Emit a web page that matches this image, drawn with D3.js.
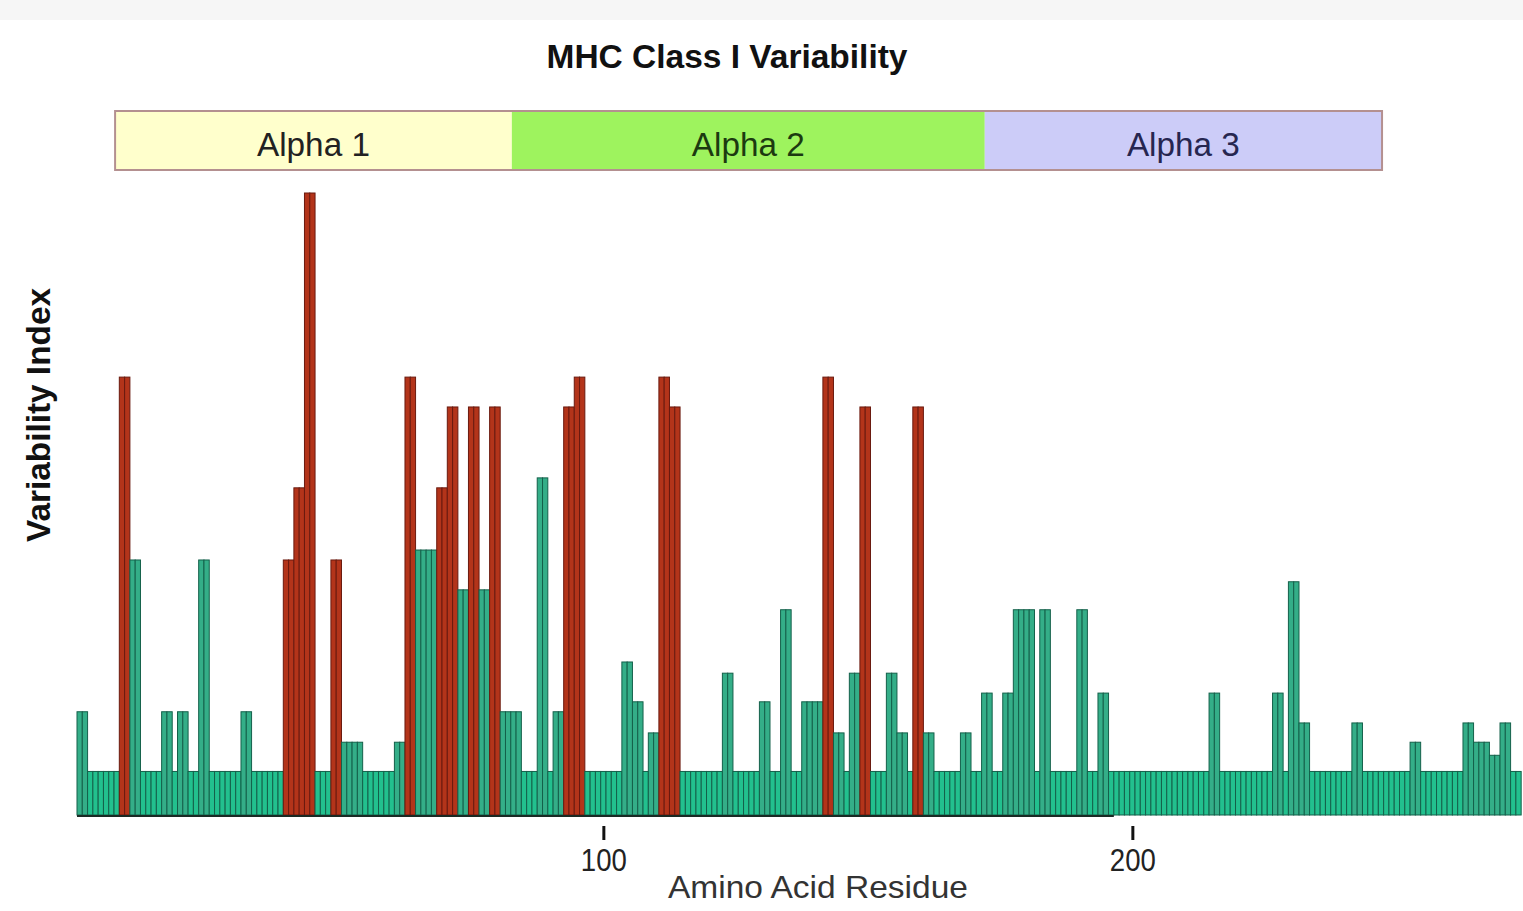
<!DOCTYPE html>
<html>
<head>
<meta charset="utf-8">
<script src="https://cdn.jsdelivr.net/npm/d3@7"></script>
<style>
  body { margin: 0; background: #fff; }
  svg { display: block; font-family: "Liberation Sans", Arial, sans-serif; }
</style>
</head>
<body>
<div id="chart"></div>
<script>
// variability index per residue (1..273)
const variability = [
  16.6, 16.6, 7, 7, 7, 7, 7, 7, 70.4, 70.4,
  41, 41, 7, 7, 7, 7, 16.6, 16.6, 7, 16.6,
  16.6, 7, 7, 41, 41, 7, 7, 7, 7, 7,
  7, 16.6, 16.6, 7, 7, 7, 7, 7, 7, 41,
  41, 52.6, 52.6, 100, 100, 7, 7, 7, 41, 41,
  11.7, 11.7, 11.7, 11.7, 7, 7, 7, 7, 7, 7,
  11.7, 11.7, 70.4, 70.4, 42.6, 42.6, 42.6, 42.6, 52.6, 52.6,
  65.6, 65.6, 36.2, 36.2, 65.6, 65.6, 36.2, 36.2, 65.6, 65.6,
  16.6, 16.6, 16.6, 16.6, 7, 7, 7, 54.2, 54.2, 7,
  16.6, 16.6, 65.6, 65.6, 70.4, 70.4, 7, 7, 7, 7,
  7, 7, 7, 24.6, 24.6, 18.2, 18.2, 7, 13.2, 13.2,
  70.4, 70.4, 65.6, 65.6, 7, 7, 7, 7, 7, 7,
  7, 7, 22.8, 22.8, 7, 7, 7, 7, 7, 18.2,
  18.2, 7, 7, 33, 33, 7, 7, 18.2, 18.2, 18.2,
  18.2, 70.4, 70.4, 13.2, 13.2, 7, 22.8, 22.8, 65.6, 65.6,
  7, 7, 7, 22.8, 22.8, 13.2, 13.2, 7, 65.6, 65.6,
  13.2, 13.2, 7, 7, 7, 7, 7, 13.2, 13.2, 7,
  7, 19.6, 19.6, 7, 7, 19.6, 19.6, 33, 33, 33,
  33, 7, 33, 33, 7, 7, 7, 7, 7, 33,
  33, 7, 7, 19.6, 19.6, 7, 7, 7, 7, 7,
  7, 7, 7, 7, 7, 7, 7, 7, 7, 7,
  7, 7, 7, 7, 19.6, 19.6, 7, 7, 7, 7,
  7, 7, 7, 7, 7, 7, 19.6, 19.6, 7, 37.5,
  37.5, 14.8, 14.8, 7, 7, 7, 7, 7, 7, 7,
  7, 14.8, 14.8, 7, 7, 7, 7, 7, 7, 7,
  7, 7, 11.7, 11.7, 7, 7, 7, 7, 7, 7,
  7, 7, 14.8, 14.8, 11.7, 11.7, 11.7, 9.6, 9.6, 14.8,
  14.8, 7, 7
];
// residues drawn in red (hypervariable)
const hypervariable = [9, 10, 40, 41, 42, 43, 44, 45, 49, 50, 63, 64, 69, 70, 71, 72,
  75, 76, 79, 80, 93, 94, 95, 96, 111, 112, 113, 114, 142, 143, 149, 150, 159, 160];

const domainNames = ["Alpha 1", "Alpha 2", "Alpha 3"];
const domainStart = [8.2, 83.2, 172.6];
const domainEnd = [83.2, 172.6, 247.7];
const domainFill = ["#ffffcc", "#9ef35e", "#ccccf8"];
const domainText = ["#222222", "#1c3a10", "#262650"];

const tickValues = [100, 200];

const setup = { width: 1523, height: 911, left: 77, top: 193, baseline: 815, step: 5.29 };

const data = variability.map((v, i) => ({ residue: i + 1, value: v, hot: hypervariable.includes(i + 1) }));

const svg = d3.select("#chart").append("svg")
  .attr("width", setup.width)
  .attr("height", setup.height);

svg.append("rect").attr("width", setup.width).attr("height", setup.height).attr("fill", "#fff");
svg.append("rect").attr("width", setup.width).attr("height", 20).attr("fill", "#f6f6f6");

const x = d3.scaleLinear()
  .domain([1, data.length + 1])
  .range([setup.left, setup.left + data.length * setup.step]);

const y = d3.scaleLinear()
  .domain([0, 100])
  .range([setup.baseline, setup.top]);

const bw = x(2) - x(1);

// title
svg.append("text")
  .attr("x", 727).attr("y", 68)
  .attr("text-anchor", "middle")
  .attr("font-size", 34).attr("font-weight", "bold")
  .attr("fill", "#111")
  .attr("textLength", 361).attr("lengthAdjust", "spacingAndGlyphs")
  .text("MHC Class I Variability");

// domain strip
const strip = svg.append("g").attr("class", "domains");
strip.selectAll("rect")
  .data(domainNames)
  .enter().append("rect")
    .attr("x", (d, i) => x(domainStart[i]))
    .attr("y", 111)
    .attr("width", (d, i) => x(domainEnd[i]) - x(domainStart[i]))
    .attr("height", 59)
    .attr("fill", (d, i) => domainFill[i]);
strip.append("rect")
  .attr("x", x(domainStart[0]))
  .attr("y", 111)
  .attr("width", x(domainEnd[2]) - x(domainStart[0]))
  .attr("height", 59)
  .attr("fill", "none")
  .attr("stroke", "#b49090")
  .attr("stroke-width", 2);
strip.selectAll("text")
  .data(domainNames)
  .enter().append("text")
    .attr("x", (d, i) => (x(domainStart[i]) + x(domainEnd[i])) / 2)
    .attr("y", 156)
    .attr("text-anchor", "middle")
    .attr("font-size", 34)
    .attr("fill", (d, i) => domainText[i])
    .attr("textLength", 113).attr("lengthAdjust", "spacingAndGlyphs")
    .text(d => d);

// bars
svg.append("g")
  .attr("class", "bar")
  .selectAll("rect")
  .data(data)
  .enter().append("rect")
    .attr("x", d => x(d.residue))
    .attr("y", d => y(d.value))
    .attr("width", bw)
    .attr("height", d => setup.baseline - y(d.value))
    .attr("fill", d => d.hot ? "#b3341a" : (d.value > 8 ? "#34ae88" : "#22c08e"))
    .attr("stroke", d => d.hot ? "#6a1a0f" : "#14604a")
    .attr("stroke-width", 1);

svg.append("line")
  .attr("x1", x(1)).attr("x2", x(197))
  .attr("y1", setup.baseline + 1).attr("y2", setup.baseline + 1)
  .attr("stroke", "#1a2a24").attr("stroke-width", 2);

// x axis
const xAxis = d3.axisBottom(x)
  .tickValues(tickValues)
  .tickSize(14)
  .tickPadding(3)
  .tickFormat(d3.format("d"));

const axis = svg.append("g")
  .attr("class", "axis")
  .attr("transform", `translate(${bw / 2},${setup.baseline + 11})`)
  .call(xAxis);
axis.select(".domain").remove();
axis.selectAll(".tick line").attr("stroke", "#111").attr("stroke-width", 3);
axis.selectAll(".tick text")
  .attr("font-size", 31)
  .attr("fill", "#222")
  .attr("dy", "0.9em")
  .attr("textLength", 46).attr("lengthAdjust", "spacingAndGlyphs");

svg.append("text")
  .attr("x", 818).attr("y", 898)
  .attr("text-anchor", "middle")
  .attr("font-size", 32)
  .attr("fill", "#333")
  .attr("textLength", 300).attr("lengthAdjust", "spacingAndGlyphs")
  .text("Amino Acid Residue");

svg.append("text")
  .attr("transform", "translate(50,415) rotate(-90)")
  .attr("text-anchor", "middle")
  .attr("font-size", 33).attr("font-weight", "bold")
  .attr("fill", "#111")
  .attr("textLength", 254).attr("lengthAdjust", "spacingAndGlyphs")
  .text("Variability Index");
</script>
</body>
</html>
